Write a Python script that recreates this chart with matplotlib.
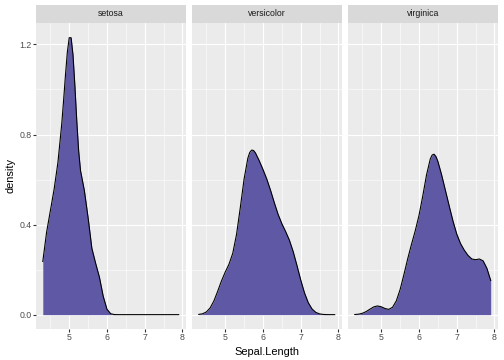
import numpy as np
import matplotlib
matplotlib.use("Agg")
import matplotlib.pyplot as plt

plt.rcParams["font.family"] = ["Liberation Sans", "DejaVu Sans"]

# ── data: density of Sepal.Length per species, read on a 0.1 grid ─────────────
sepal_length = np.round(np.arange(43, 80) / 10, 1)   # 4.3 .. 7.9

setosa = [0.2360, 0.3654, 0.4611, 0.5570, 0.6751, 0.8433, 1.0625, 1.2301,
          1.1531, 0.8604, 0.6391, 0.5523, 0.4307, 0.2945, 0.2279, 0.1664,
          0.0819, 0.0239, 0.0039, 0.0004, 0.0, 0.0, 0.0, 0.0, 0.0, 0.0,
          0.0, 0.0, 0.0, 0.0, 0.0, 0.0, 0.0, 0.0, 0.0, 0.0, 0.0]

versicolor = [0.0011, 0.0039, 0.0120, 0.0298, 0.0609, 0.1038, 0.1496,
              0.1890, 0.2241, 0.2729, 0.3565, 0.4760, 0.6027, 0.6953,
              0.7309, 0.7185, 0.6839, 0.6448, 0.6025, 0.5526, 0.4975,
              0.4458, 0.4040, 0.3691, 0.3307, 0.2802, 0.2185, 0.1540,
              0.0966, 0.0531, 0.0251, 0.0100, 0.0033, 0.0009, 0.0002,
              0.0000, 0.0000]

virginica = [0.0006, 0.0021, 0.0060, 0.0135, 0.0242, 0.0343, 0.0387,
             0.0350, 0.0273, 0.0235, 0.0327, 0.0613, 0.1113, 0.1771,
             0.2471, 0.3115, 0.3717, 0.4402, 0.5265, 0.6205, 0.6917,
             0.7124, 0.6812, 0.6206, 0.5522, 0.4833, 0.4161, 0.3582,
             0.3160, 0.2863, 0.2629, 0.2472, 0.2440, 0.2472, 0.2388,
             0.2054, 0.1518]

# extra readings around the peaks (half-steps)
setosa_peak_x = [4.85, 4.95, 5.05, 5.15, 5.25]
setosa_peak = [0.9494, 1.1651, 1.2298, 1.0168, 0.7268]
versicolor_peak_x = [5.65, 5.75]
versicolor_peak = [0.7204, 0.7291]
virginica_peak_x = [6.35, 6.45]
virginica_peak = [0.7092, 0.7022]

species = ["setosa", "versicolor", "virginica"]
densities = [setosa, versicolor, virginica]
peaks = [(setosa_peak_x, setosa_peak), (versicolor_peak_x, versicolor_peak),
         (virginica_peak_x, virginica_peak)]

x_ticks = [5, 6, 7, 8]
y_ticks = [0.0, 0.4, 0.8, 1.2]

# ── style (ggplot2 theme_grey look) ────────────────────────────────────────────
W, H = 504, 360
fill_col = "#5F59A5"
panel_bg = "#EBEBEB"
strip_bg = "#D9D9D9"
text_col = "#4D4D4D"
tick_col = "#333333"

panel_left = [36, 192, 348]
panel_w = 149.5
panel_top, panel_bottom = 22.5, 328.5
strip_top = 4.5

fig = plt.figure(figsize=(W / 72, H / 72), dpi=72)

for i, (name, dens) in enumerate(zip(species, densities)):
    px, py = peaks[i]
    xs = np.concatenate([sepal_length, px])
    ys = np.concatenate([dens, py])
    order = np.argsort(xs)
    xs, ys = xs[order], ys[order]

    l = panel_left[i]
    ax = fig.add_axes([l / W, (H - panel_bottom) / H, panel_w / W,
                       (panel_bottom - panel_top) / H])
    ax.set_facecolor(panel_bg)
    ax.set_xlim(4.12, 8.08)
    ax.set_ylim(-0.0615, 1.2975)

    # grid
    for v in [4.5, 5.5, 6.5, 7.5]:
        ax.axvline(v, color="white", lw=0.55, zorder=0)
    for v in [0.2, 0.6, 1.0]:
        ax.axhline(v, color="white", lw=0.55, zorder=0)
    for v in x_ticks:
        ax.axvline(v, color="white", lw=1.1, zorder=0)
    for v in y_ticks:
        ax.axhline(v, color="white", lw=1.1, zorder=0)

    ax.fill_between(xs, ys, 0, color=fill_col, lw=0, zorder=2)
    ax.plot(xs, ys, color="black", lw=1.1, zorder=3)

    for s in ax.spines.values():
        s.set_visible(False)
    ax.set_xticks(x_ticks)
    ax.set_xticklabels([str(t) for t in x_ticks])
    ax.set_yticks(y_ticks)
    if i == 0:
        ax.set_yticklabels([f"{t:.1f}" for t in y_ticks])
        ax.tick_params(axis="y", length=2.75, width=1.1, color=tick_col,
                       labelsize=8.8, labelcolor=text_col, pad=2)
    else:
        ax.tick_params(axis="y", length=0, labelleft=False)
    ax.tick_params(axis="x", length=2.75, width=1.1, color=tick_col,
                   labelsize=8.8, labelcolor=text_col, pad=2)

    # facet strip
    sax = fig.add_axes([l / W, (H - panel_top) / H, panel_w / W,
                        (panel_top - strip_top) / H])
    sax.set_facecolor(strip_bg)
    sax.set_xticks([])
    sax.set_yticks([])
    for s in sax.spines.values():
        s.set_visible(False)
    sax.text(0.5, 0.5, name, ha="center", va="center", fontsize=8.8,
             color="#1A1A1A", transform=sax.transAxes)

fig.text((panel_left[0] + panel_left[2] + panel_w) / 2 / W, 1 - 352 / H,
         "Sepal.Length", ha="center", va="center", fontsize=11, color="black")
fig.text(10 / W, 1 - ((panel_top + panel_bottom) / 2) / H, "density",
         ha="center", va="center", rotation=90, fontsize=11, color="black")

fig.savefig("out.png", dpi=72)
